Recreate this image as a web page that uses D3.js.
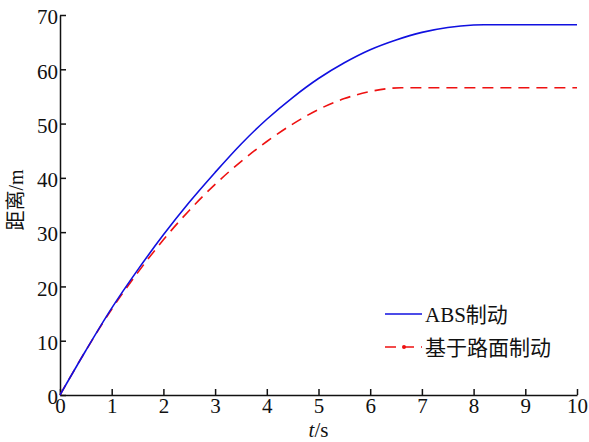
<!DOCTYPE html>
<html>
<head>
<meta charset="utf-8">
<script src="https://cdn.jsdelivr.net/npm/d3@7"></script>
<style>
  body { margin: 0; background: #fff; }
  svg text { font-family: "Liberation Serif", "Noto Sans CJK SC", serif; fill: #111; }
  .axis path, .axis line { stroke: #111; stroke-width: 1.5px; }
</style>
</head>
<body>
<div id="chart"></div>
<script>
// t/s sample points and distance (m)
var absTime = [0, 0.5, 1, 1.5, 2, 2.5, 3, 3.5, 4, 4.5, 5, 5.5, 6, 6.5, 7, 7.5, 8, 8.2, 10];
var absDist = [0, 8.2, 16, 23, 29.5, 35.5, 41, 46.2, 50.8, 54.8, 58.3, 61.2, 63.6, 65.4, 66.8, 67.7, 68.15, 68.2, 68.2];

var roadTime = [0, 0.5, 1, 1.5, 2, 2.5, 3, 3.5, 4, 4.5, 5, 5.5, 6, 6.3, 6.6, 10];
var roadDist = [0, 8.2, 15.8, 22.5, 28.6, 34, 38.8, 43, 46.7, 49.9, 52.6, 54.6, 55.9, 56.4, 56.6, 56.6];

var xTicks = [0, 1, 2, 3, 4, 5, 6, 7, 8, 9, 10];
var yTicks = [0, 10, 20, 30, 40, 50, 60, 70];
var seriesNames = ["ABS制动", "基于路面制动"];

var width = 589, height = 442;
var margin = {top: 15, right: 12, bottom: 47, left: 60};

var svg = d3.select("#chart").append("svg")
    .attr("width", width)
    .attr("height", height);

var x = d3.scaleLinear().domain([0, 10]).range([margin.left, width - margin.right]);
var y = d3.scaleLinear().domain([0, 70]).range([height - margin.bottom, margin.top]);

// axes, ticks pointing inward
var xAxis = d3.axisTop(x).tickValues(xTicks).tickSize(6).tickSizeOuter(0).tickFormat(d3.format("d"));
var gx = svg.append("g")
    .attr("class", "axis")
    .attr("transform", "translate(0," + y(0) + ")")
    .call(xAxis);
gx.selectAll("text")
    .attr("y", 18)
    .attr("dy", 0)
    .style("font-size", "21px");

var yAxis = d3.axisRight(y).tickValues(yTicks).tickSize(6).tickSizeOuter(0);
var gy = svg.append("g")
    .attr("class", "axis")
    .attr("transform", "translate(" + x(0) + ",0)")
    .call(yAxis);
gy.selectAll("text")
    .attr("x", -2)
    .attr("dy", "0.42em")
    .style("text-anchor", "end")
    .style("font-size", "21px");

// axis titles
svg.append("text")
    .attr("transform", "translate(23," + 200 + ") rotate(-90)")
    .style("text-anchor", "middle")
    .style("font-size", "20px")
    .text("距离/m");

var xt = svg.append("text")
    .attr("x", (x(0) + x(10)) / 2)
    .attr("y", 437)
    .style("text-anchor", "middle")
    .style("font-size", "21px");
xt.append("tspan").style("font-style", "italic").text("t");
xt.append("tspan").text("/s");

// lines
var lineAbs = d3.line()
    .x(function (d, i) { return x(absTime[i]); })
    .y(function (d) { return y(d); })
    .curve(d3.curveMonotoneX);

var lineRoad = d3.line()
    .x(function (d, i) { return x(roadTime[i]); })
    .y(function (d) { return y(d); })
    .curve(d3.curveMonotoneX);

svg.append("path")
    .datum(roadDist)
    .attr("fill", "none")
    .attr("stroke", "#ee1111")
    .attr("stroke-width", 1.6)
    .attr("stroke-dasharray", "11,7")
    .attr("d", lineRoad);

svg.append("path")
    .datum(absDist)
    .attr("fill", "none")
    .attr("stroke", "#1010e0")
    .attr("stroke-width", 1.6)
    .attr("d", lineAbs);

// legend
var legend = svg.append("g");
legend.append("line")
    .attr("x1", 385).attr("x2", 422)
    .attr("y1", 314).attr("y2", 314)
    .attr("stroke", "#1010e0")
    .attr("stroke-width", 1.6);
legend.append("text")
    .attr("x", 425).attr("y", 322)
    .style("font-size", "21px")
    .text(seriesNames[0]);

legend.append("line")
    .attr("x1", 385).attr("x2", 422)
    .attr("y1", 347).attr("y2", 347)
    .attr("stroke", "#ee1111")
    .attr("stroke-width", 1.6)
    .attr("stroke-dasharray", "11,7");
legend.append("circle")
    .attr("cx", 404).attr("cy", 347)
    .attr("r", 2)
    .attr("fill", "#ee1111");
legend.append("text")
    .attr("x", 425).attr("y", 355)
    .style("font-size", "21px")
    .text(seriesNames[1]);
</script>
</body>
</html>
